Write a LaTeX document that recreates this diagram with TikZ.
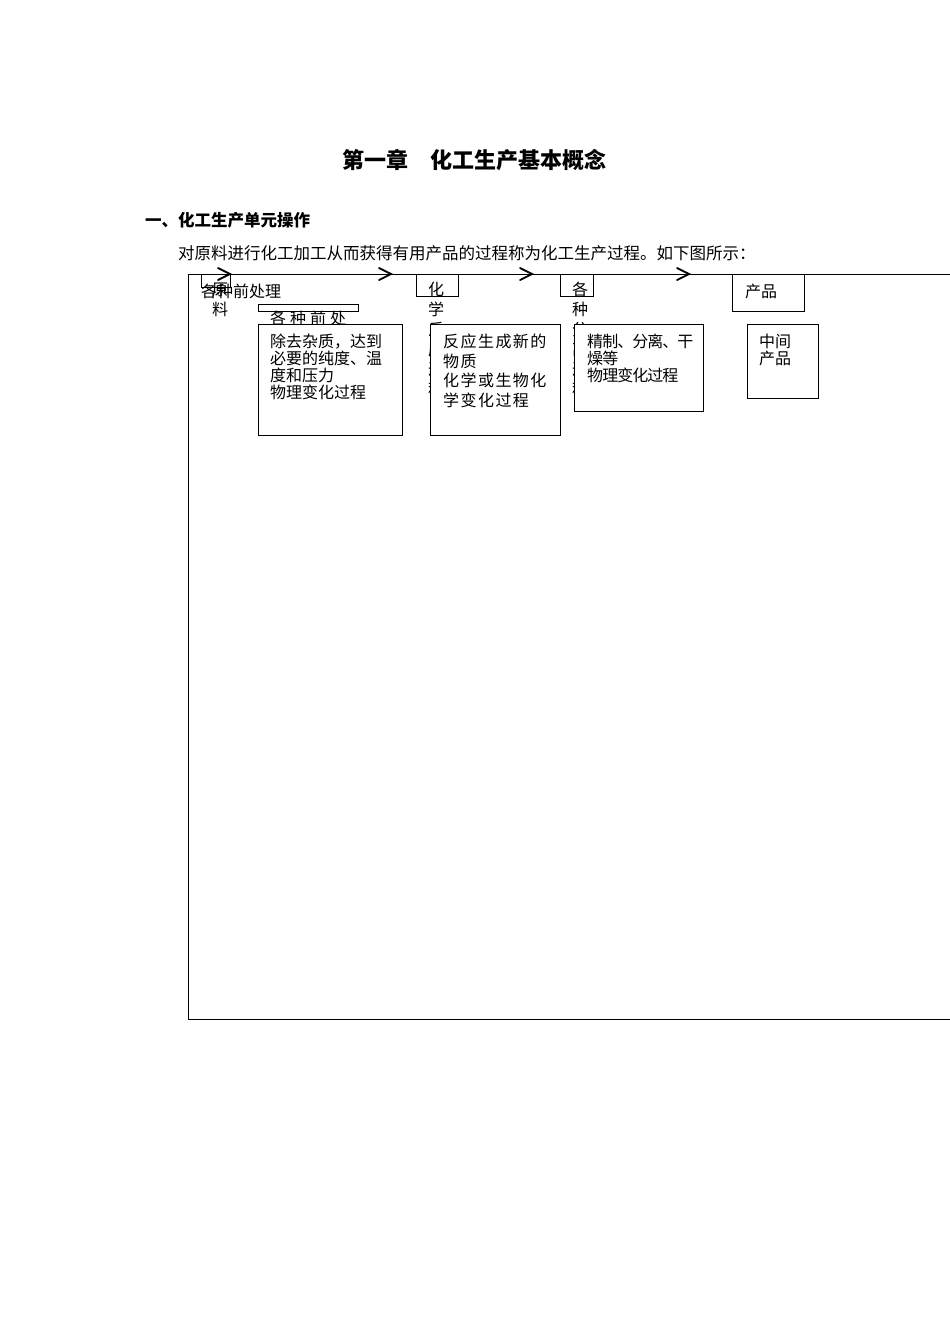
\documentclass[tikz,border=0pt]{standalone}
\usepackage{fontspec}
\newfontfamily\cjk{Noto Sans CJK SC}
\begin{document}
\begin{tikzpicture}[x=1pt,y=-1pt]
\tikzstyle{box}=[draw,line width=0.9pt,inner sep=0pt,anchor=north west]
\tikzstyle{bigbox}=[box,fill=white]
\tikzstyle{txt}=[inner sep=0pt,font=\cjk\fontsize{16}{17}\selectfont,align=left,anchor=west]
\tikzstyle{col}=[inner sep=0pt,font=\cjk\fontsize{16}{20}\selectfont,align=center,anchor=north]
\tikzstyle{chev}=[line width=1.8pt,line cap=round,line join=miter]
\useasboundingbox (0,0) rectangle (950,1344);

% heading and text
\node[inner sep=0pt,font=\cjk\bfseries\fontsize{22}{22}\selectfont] (title) at (474.5,160) {第一章　化工生产基本概念};
\node[inner sep=0pt,font=\cjk\bfseries\fontsize{16.5}{16.5}\selectfont,anchor=west] (sec) at (145,220) {一、化工生产单元操作};
\node[txt,font=\cjk\fontsize{16.5}{16.5}\selectfont] (intro) at (178,253) {对原料进行化工加工从而获得有用产品的过程称为化工生产过程。如下图所示：};

% frame
\coordinate (tl) at (188,274);
\coordinate (tr) at (950,274);
\coordinate (bl) at (188,1019);
\coordinate (br) at (950,1019);
\draw[line width=0.9pt] (tr) -- (tl) -- (bl) -- (br);
\foreach \x in {230,391,532,689}
  \draw[chev] (\x-12,268) -- (\x,274) -- (\x-12,280);

% small boxes
\node[box,minimum width=29pt,minimum height=13pt] (raw) at (201,274) {};
\node[box,minimum width=100pt,minimum height=7pt] (prebar) at (258,304) {};
\node[box,minimum width=42pt,minimum height=22pt] (chem) at (416,274) {};
\node[box,minimum width=33pt,minimum height=22pt] (sep) at (560,274) {};
\node[box,minimum width=72pt,minimum height=37pt] (prod) at (732,274) {};

\node[txt] (pretitle) at (201,291) {各种前处理};
\node[col] (rawcol) at (220,283) {原\\料};
\node[txt] (prelbl) at (270,318) {各\hspace{4pt}种\hspace{4pt}前\hspace{4pt}处};
\node[col] (chemcol) at (436,282) {化\\学\\反\\应\\过\\程};
\node[col] (sepcol) at (580,282) {各\\种\\分\\离\\过\\程};

% big boxes
\node[bigbox,minimum width=144pt,minimum height=111pt] (pre) at (258,324) {};
\node[bigbox,minimum width=130pt,minimum height=111pt] (react) at (430,324) {};
\node[bigbox,minimum width=129pt,minimum height=87pt] (purify) at (574,324) {};
\node[bigbox,minimum width=71pt,minimum height=74pt] (mid) at (747,324) {};

\node[txt] (pretxt) at (270,366.5) {除去杂质，达到\\必要的纯度、温\\度和压力\\物理变化过程};
\node[txt,font=\cjk\fontsize{16}{19.5}\selectfont\addfontfeature{LetterSpace=9}] (reacttxt) at (443,371) {反应生成新的\\物质\\化学或生物化\\学变化过程};
\node[txt,font=\cjk\fontsize{16}{17}\selectfont\addfontfeature{LetterSpace=-6}] (puritxt) at (587,358) {精制、分离、干\\燥等\\物理变化过程};
\node[txt] (midtxt) at (759,350) {中间\\产品};
\node[txt] (prodtxt) at (745,291) {产品};
\end{tikzpicture}
\end{document}
